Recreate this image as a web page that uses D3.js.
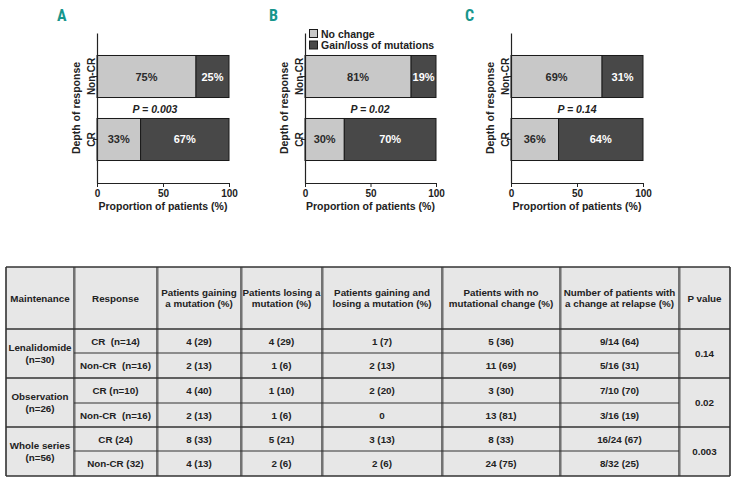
<!DOCTYPE html>
<html><head><meta charset="utf-8">
<script src="https://cdn.jsdelivr.net/npm/d3@7"></script>
<style>
html,body{margin:0;padding:0;background:#fff;}
svg{display:block;font-family:Arial,"Liberation Sans",Helvetica,sans-serif;}
</style></head>
<body>
<svg id="chart" width="736" height="481"></svg>
<script>
// ---- Data ----
const categories = ["Non-CR", "CR"];
const panelLetters = ["A", "B", "C"];
const noChangeA = [75, 33], gainLossA = [25, 67];
const noChangeB = [81, 30], gainLossB = [19, 70];
const noChangeC = [69, 36], gainLossC = [31, 64];
const pLabels = ["P = 0.003", "P = 0.02", "P = 0.14"];
const xTicks = [0, 50, 100];
const legendLabels = ["No change", "Gain/loss of mutations"];

const tableHeaders = ["Maintenance", "Response", "Patients gaining\na mutation (%)", "Patients losing a\nmutation (%)",
  "Patients gaining and\nlosing a mutation (%)", "Patients with no\nmutational change (%)",
  "Number of patients with\na change at relapse (%)", "P value"];
const groups = ["Lenalidomide\n(n=30)", "Observation\n(n=26)", "Whole series\n(n=56)"];
const groupP = ["0.14", "0.02", "0.003"];
const responses = ["CR  (n=14)", "Non-CR  (n=16)", "CR (n=10)", "Non-CR  (n=16)", "CR (24)", "Non-CR (32)"];
const gainCol = ["4 (29)", "2 (13)", "4 (40)", "2 (13)", "8 (33)", "4 (13)"];
const loseCol = ["4 (29)", "1 (6)", "1 (10)", "1 (6)", "5 (21)", "2 (6)"];
const gainLoseCol = ["1 (7)", "2 (13)", "2 (20)", "0", "3 (13)", "2 (6)"];
const noChangeCol = ["5 (36)", "11 (69)", "3 (30)", "13 (81)", "8 (33)", "24 (75)"];
const relapseCol = ["9/14 (64)", "5/16 (31)", "7/10 (70)", "3/16 (19)", "16/24 (67)", "8/32 (25)"];

// ---- Style / layout ----
const LIGHT = "#c8c8c8", DARK = "#484848", TEAL = "#17968c", INK = "#222";
const svg = d3.select("#chart");

const panels = [
  {nc: noChangeA, gl: gainLossA, x0: 97, x1: 229, letterX: 57, pX: 155},
  {nc: noChangeB, gl: gainLossB, x0: 305, x1: 436, letterX: 269, pX: 370, legend: true},
  {nc: noChangeC, gl: gainLossC, x0: 511, x1: 643, letterX: 465, pX: 577}
];

panels.forEach((p, i) => {
  const g = svg.append("g");
  const x = d3.scaleLinear().domain([0, 100]).range([p.x0, p.x1]);
  const y = d3.scaleBand().domain(categories).range([33, 183]).paddingInner(0.333).paddingOuter(0.357);

  g.append("text").attr("x", p.letterX).attr("y", 21).text(panelLetters[i])
    .attr("fill", TEAL).attr("font-size", 16).attr("font-weight", "bold")
    .attr("font-family", "'Liberation Sans Narrow','Roboto Condensed','DejaVu Sans Condensed',sans-serif");

  // bars
  categories.forEach((c, k) => {
    const nc = p.nc[k], gl = p.gl[k];
    g.append("rect").attr("x", x(0)).attr("y", y(c)).attr("width", x(nc) - x(0)).attr("height", y.bandwidth())
      .attr("fill", LIGHT).attr("stroke", "#1a1a1a").attr("stroke-width", 1);
    g.append("rect").attr("x", x(nc)).attr("y", y(c)).attr("width", x(100) - x(nc)).attr("height", y.bandwidth())
      .attr("fill", DARK).attr("stroke", "#1a1a1a").attr("stroke-width", 1);
    g.append("text").attr("x", (x(0) + x(nc)) / 2).attr("y", y(c) + y.bandwidth() / 2 + 4)
      .attr("text-anchor", "middle").attr("font-size", 11).attr("font-weight", "bold").attr("fill", "#2a2a2a").text(nc + "%");
    g.append("text").attr("x", (x(nc) + x(100)) / 2).attr("y", y(c) + y.bandwidth() / 2 + 4)
      .attr("text-anchor", "middle").attr("font-size", 11).attr("font-weight", "bold").attr("fill", "#fff").text(gl + "%");
  });

  // axes
  const xa = g.append("g").attr("transform", "translate(0,183)")
    .call(d3.axisBottom(x).tickValues(xTicks).tickSize(4).tickSizeOuter(0));
  xa.selectAll(".tick text").attr("font-size", 10).attr("font-weight", "bold").attr("fill", INK).attr("font-family", null);
  const ya = g.append("g").attr("transform", `translate(${p.x0},0)`)
    .call(d3.axisLeft(y).tickSize(4).tickSizeOuter(0));
  ya.selectAll(".tick text").attr("font-size", 10).attr("font-weight", "bold").attr("fill", INK)
    .attr("x", 0).attr("y", 0).attr("dy", "0").attr("text-anchor", "middle")
    .attr("transform", "translate(-2,0) rotate(-90)");
  xa.attr("font-family", null); ya.attr("font-family", null);
  [xa, ya].forEach(a => { a.select(".domain").attr("stroke", INK).attr("stroke-width", 1.2); a.selectAll(".tick line").attr("stroke", INK); });

  g.append("text").attr("x", (p.x0 + p.x1) / 2).attr("y", 209.5).attr("text-anchor", "middle")
    .attr("font-size", 10.5).attr("font-weight", "bold").attr("fill", INK).text("Proportion of patients (%)");
  g.append("text").attr("transform", `translate(${p.x0 - 17},108) rotate(-90)`).attr("text-anchor", "middle")
    .attr("font-size", 10.5).attr("font-weight", "bold").attr("fill", INK).text("Depth of response");
  g.append("text").attr("x", p.pX).attr("y", 112.5).attr("text-anchor", "middle")
    .attr("font-size", 10.5).attr("font-weight", "bold").attr("font-style", "italic").attr("fill", INK).text(pLabels[i]);

  if (p.legend) {
    legendLabels.forEach((l, k) => {
      g.append("rect").attr("x", 309.5).attr("y", 29.5 + k * 11.5).attr("width", 8).attr("height", 8)
        .attr("fill", k === 0 ? LIGHT : DARK).attr("stroke", "#1a1a1a");
      g.append("text").attr("x", 321).attr("y", 37.5 + k * 11.5).attr("font-size", 10.5).attr("font-weight", "bold")
        .attr("fill", INK).text(l);
    });
  }
});

// ---- Table ----
const colX = [6, 74, 157, 241, 322, 442, 560, 679, 730];
const rowY = [267, 329, 353, 378, 403, 427, 451, 476];
const tg = svg.append("g");
tg.append("rect").attr("x", colX[0]).attr("y", rowY[0]).attr("width", colX[8] - colX[0]).attr("height", rowY[7] - rowY[0])
  .attr("fill", "#e7e7e7");

function multiText(cx, cy, str) {
  const lines = str.split("\n");
  const lh = 11.5;
  lines.forEach((ln, k) => {
    tg.append("text").attr("x", cx).attr("y", cy + (k - (lines.length - 1) / 2) * lh + 3.6)
      .attr("text-anchor", "middle").attr("font-size", 9.8).attr("font-weight", "bold").attr("fill", INK)
      .style("white-space", "pre").text(ln);
  });
}
const colC = k => (colX[k] + colX[k + 1]) / 2;
tableHeaders.forEach((h, k) => multiText(colC(k), (rowY[0] + rowY[1]) / 2, h));
const cols = [responses, gainCol, loseCol, gainLoseCol, noChangeCol, relapseCol];
responses.forEach((r, ri) => {
  const cy = (rowY[ri + 1] + rowY[ri + 2]) / 2;
  cols.forEach((col, ci) => multiText(colC(ci + 1), cy, col[ri]));
});
groups.forEach((gname, gi) => {
  const cy = (rowY[1 + gi * 2] + rowY[3 + gi * 2]) / 2;
  multiText(colC(0), cy, gname);
  multiText(colC(7), cy, groupP[gi]);
});

// grid lines
const LINE = "#333";
colX.forEach((cx, k) => {
  tg.append("line").attr("x1", cx).attr("x2", cx).attr("y1", rowY[0]).attr("y2", rowY[7])
    .attr("stroke", LINE).attr("stroke-width", (k === 0 || k === 8) ? 1.6 : 1.3);
  if (k > 0 && k < 8) {
    tg.append("line").attr("x1", cx + 1.5).attr("x2", cx + 1.5).attr("y1", rowY[0]).attr("y2", rowY[7])
      .attr("stroke", "#a8a8a8").attr("stroke-width", 1);
  }
});
[0, 1, 3, 5, 7].forEach(ri => {
  tg.append("line").attr("x1", colX[0]).attr("x2", colX[8]).attr("y1", rowY[ri]).attr("y2", rowY[ri])
    .attr("stroke", LINE).attr("stroke-width", (ri === 0 || ri === 7) ? 1.6 : 1.3);
});
[2, 4, 6].forEach(ri => {
  tg.append("line").attr("x1", colX[1]).attr("x2", colX[7]).attr("y1", rowY[ri]).attr("y2", rowY[ri])
    .attr("stroke", LINE).attr("stroke-width", 1.1);
});
</script>
</body></html>
